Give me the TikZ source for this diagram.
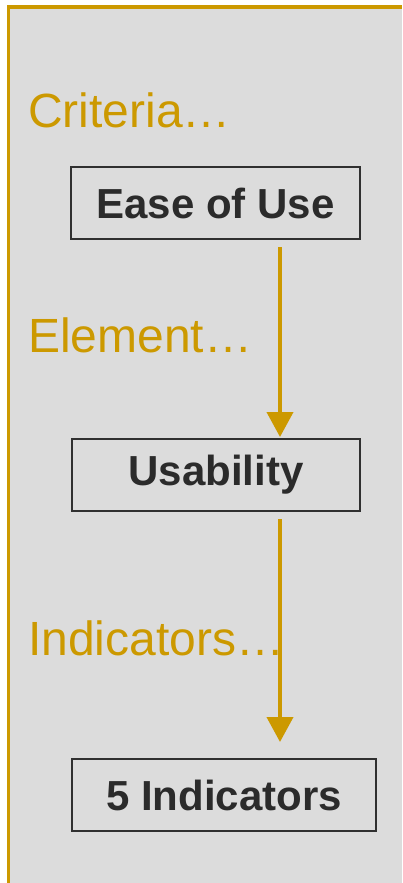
\documentclass[tikz,border=0pt]{standalone}
\usepackage{fontspec}
\setmainfont{Liberation Sans}
\usetikzlibrary{arrows.meta}
\definecolor{gold}{HTML}{CC9900}
\definecolor{panel}{HTML}{DCDCDC}
\definecolor{ink}{HTML}{2B2B2B}
\definecolor{edge}{HTML}{303030}
\tikzset{
  boxnode/.style={draw=edge, line width=2pt, minimum height=72pt, inner sep=0pt,
    font=\fontsize{42}{50}\selectfont\bfseries, text=ink},
  lbl/.style={anchor=base west, inner sep=0pt, text=gold, font=\fontsize{48}{54}\selectfont},
  arr/.style={draw=gold, line width=4pt, -{Triangle[width=26pt,length=25pt]}}
}
\begin{document}
\begin{tikzpicture}[x=1pt,y=-1pt]
\useasboundingbox (0,0) rectangle (402,883);
\fill[white] (0,0) rectangle (402,883);
\fill[panel] (10,8) rectangle (402,883);
\draw[gold, line width=3pt] (8.5,883) -- (8.5,7);
\draw[gold, line width=4pt] (7,7) -- (402,7);
\node[lbl] (l1) at (28,127) {Criteria…};
\node[lbl] (l2) at (28,352) {Element…};
\node[lbl] (l3) at (28,655) {Indicators…};
\node[boxnode, minimum width=289pt] (b1) at (215.5,203) {Ease of Use};
\node[boxnode, minimum width=288pt] (b2) at (216,475) {Usability};
\node[boxnode, minimum width=304pt] (b3) at (224,795) {5 Indicators};
\coordinate (ax) at (280,0);
\draw[arr, shorten <=7pt, shorten >=1pt] (b1.south -| ax) -- (b2.north -| ax);
\draw[arr, shorten <=7pt, shorten >=16pt] (b2.south -| ax) -- (b3.north -| ax);
\end{tikzpicture}
\end{document}
